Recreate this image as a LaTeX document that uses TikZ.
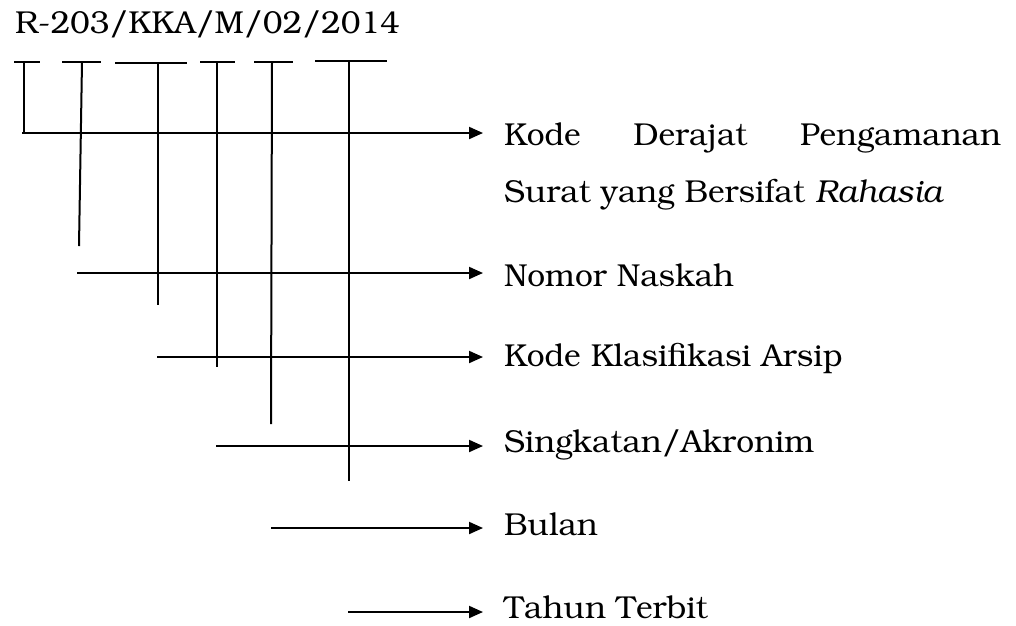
\documentclass[tikz,border=0pt]{standalone}
\usepackage[T1]{fontenc}
\usepackage{bookman}
\usepackage{tikz}
\usetikzlibrary{arrows.meta}

\begin{document}
\begin{tikzpicture}[x=1pt,y=-1pt,line width=2pt,
	bigtext/.style={inner sep=0pt,font=\fontsize{31.7}{57}\selectfont},
	pointer/.style={-{Triangle[length=14pt,width=12pt]},shorten >=20pt}]
	\useasboundingbox (0,0) rectangle (1016,625);
	\node[bigtext,anchor=base west] (code) at (14,33) {R-203/KKA/M/02/2014};
	% bagian-bagian nomor
	\coordinate (t1) at (24,62);  \coordinate (b1) at (24,133);
	\coordinate (t2) at (82,62);  \coordinate (b2) at (79,246);
	\coordinate (t3) at (158,63); \coordinate (b3) at (158,305);
	\coordinate (t4) at (217,62); \coordinate (b4) at (217,367);
	\coordinate (t5) at (272,62); \coordinate (b5) at (271,424);
	\coordinate (t6) at (349,61); \coordinate (b6) at (349,481);
	\draw (14,62) -- (40,62);
	\draw (62,62) -- (101,62);
	\draw (115,63) -- (187,63);
	\draw (200,62) -- (235,62);
	\draw (254,62) -- (293,62);
	\draw (315,61) -- (387,61);
	\draw (t1) -- (b1);
	\draw (t2) -- (b2);
	\draw (t3) -- (b3);
	\draw (t4) -- (b4);
	\draw (t5) -- (b5);
	\draw (t6) -- (b6);
	% keterangan
	\node[bigtext,anchor=base west,text width=497pt,align=justify] (lbl1) at (503,145)
		{\tolerance=10000 Kode Derajat Pengamanan\linebreak Surat yang Bersifat \textit{Rahasia}};
	\node[bigtext,anchor=base west] (lbl2) at (503,286) {Nomor Naskah};
	\node[bigtext,anchor=base west] (lbl3) at (503,366) {Kode Klasifikasi Arsip};
	\node[bigtext,anchor=base west] (lbl4) at (503,452) {Singkatan/Akronim};
	\node[bigtext,anchor=base west] (lbl5) at (503,535) {Bulan};
	\node[bigtext,anchor=base west] (lbl6) at (503,618) {Tahun Terbit};
	\coordinate (s1) at (22,133);
	\coordinate (s2) at (77,273);
	\coordinate (s3) at (157,357);
	\coordinate (s4) at (216,446);
	\coordinate (s5) at (271,528);
	\coordinate (s6) at (348,612);
	\draw[pointer] (s1) -- (s1 -| lbl1.west);
	\draw[pointer] (s2) -- (s2 -| lbl2.west);
	\draw[pointer] (s3) -- (s3 -| lbl3.west);
	\draw[pointer] (s4) -- (s4 -| lbl4.west);
	\draw[pointer] (s5) -- (s5 -| lbl5.west);
	\draw[pointer] (s6) -- (s6 -| lbl6.west);
\end{tikzpicture}
\end{document}
